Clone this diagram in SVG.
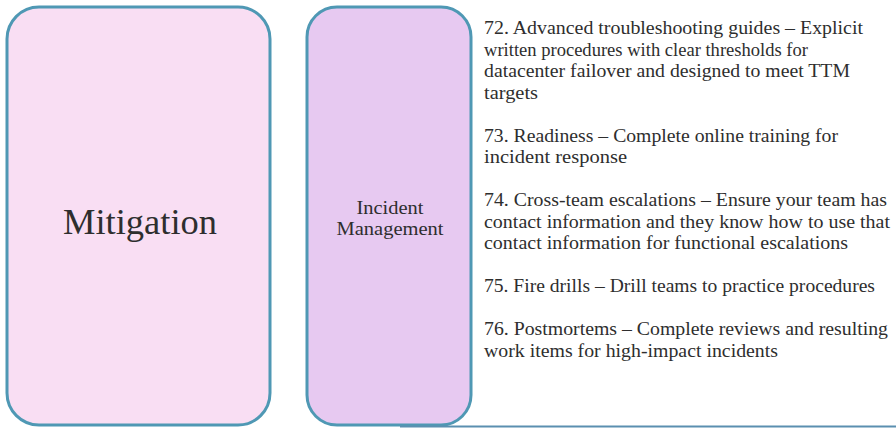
<svg xmlns="http://www.w3.org/2000/svg" width="896" height="428" viewBox="0 0 896 428">
<style>
.box{stroke:#4f98b4;stroke-width:3}
.t{font-family:"Liberation Serif","Times New Roman",serif;fill:#2e2e2e}
.body{font-size:19px}
</style>
<rect width="896" height="428" fill="#ffffff"/>
<g id="mitigation">
<rect class="box" x="7" y="7" width="263" height="418" rx="32" fill="#f9def3"/>
<text class="t" x="140" y="234" font-size="36" text-anchor="middle" textLength="154" lengthAdjust="spacingAndGlyphs">Mitigation</text>
</g>
<g id="incident-management">
<rect class="box" x="307" y="7" width="164" height="418" rx="30" fill="#e7c9f1"/>
<text class="t" x="390" y="214" font-size="19" text-anchor="middle" fill="#3a2a48" textLength="67" lengthAdjust="spacingAndGlyphs">Incident</text>
<text class="t" x="390" y="235" font-size="19" text-anchor="middle" fill="#3a2a48" textLength="107" lengthAdjust="spacingAndGlyphs">Management</text>
</g>
<g id="connectors">
<line x1="400" y1="426.5" x2="896" y2="426.5" stroke="#5b8fb0" stroke-width="2"/>
</g>
<g id="items" class="t body" lengthAdjust="spacingAndGlyphs">
<text x="484" y="34" textLength="379" lengthAdjust="spacingAndGlyphs">72. Advanced troubleshooting guides – Explicit</text>
<text x="484" y="55.5" textLength="324" lengthAdjust="spacingAndGlyphs">written procedures with clear thresholds for</text>
<text x="484" y="77" textLength="366" lengthAdjust="spacingAndGlyphs">datacenter failover and designed to meet TTM</text>
<text x="484" y="98.5" textLength="54" lengthAdjust="spacingAndGlyphs">targets</text>
<text x="484" y="141.5" textLength="354" lengthAdjust="spacingAndGlyphs">73. Readiness – Complete online training for</text>
<text x="484" y="163" textLength="143" lengthAdjust="spacingAndGlyphs">incident response</text>
<text x="484" y="206" textLength="403" lengthAdjust="spacingAndGlyphs">74. Cross-team escalations – Ensure your team has</text>
<text x="484" y="227.5" textLength="406" lengthAdjust="spacingAndGlyphs">contact information and they know how to use that</text>
<text x="484" y="249" textLength="364" lengthAdjust="spacingAndGlyphs">contact information for functional escalations</text>
<text x="484" y="292" textLength="391" lengthAdjust="spacingAndGlyphs">75. Fire drills – Drill teams to practice procedures</text>
<text x="484" y="335" textLength="404" lengthAdjust="spacingAndGlyphs">76. Postmortems – Complete reviews and resulting</text>
<text x="484" y="356.5" textLength="294" lengthAdjust="spacingAndGlyphs">work items for high-impact incidents</text>
</g>
</svg>
